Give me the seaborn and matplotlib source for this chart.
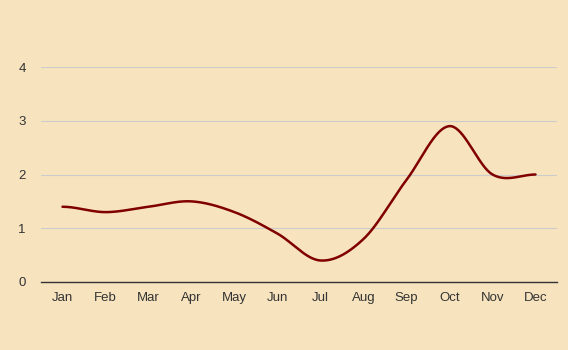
import numpy as np
import matplotlib
matplotlib.use("Agg")
import matplotlib.pyplot as plt
import seaborn as sns
import pandas as pd

months = ["Jan", "Feb", "Mar", "Apr", "May", "Jun", "Jul", "Aug", "Sep", "Oct", "Nov", "Dec"]
values = [1.4, 1.3, 1.4, 1.5, 1.3, 0.9, 0.4, 0.8, 1.9, 2.9, 2.0, 2.0]
yticks = [0, 1, 2, 3, 4]

BG = "#F7E4BF"
sns.set_theme(style="white")
plt.rcParams["font.family"] = ["Liberation Sans", "DejaVu Sans"]

fig = plt.figure(figsize=(5.68, 3.5), dpi=100, facecolor=BG)
ax = fig.add_axes([41/568, 1-282/350, (557-41)/568, (282-67)/350])
ax.set_facecolor(BG)

# Catmull-Rom smoothing for the drawn line
x = np.arange(len(values), dtype=float)
y = np.array(values, dtype=float)
xs, ys = [], []
n = len(y)
for i in range(n - 1):
    m0 = (y[i+1] - y[i-1]) / 2 if i > 0 else 0.0
    m1 = (y[i+2] - y[i]) / 2 if i + 2 < n else 0.0
    t = np.linspace(0, 1, 40, endpoint=(i == n - 2))
    h00 = 2*t**3 - 3*t**2 + 1
    h10 = t**3 - 2*t**2 + t
    h01 = -2*t**3 + 3*t**2
    h11 = t**3 - t**2
    xs.append(x[i] + t)
    ys.append(h00*y[i] + h10*m0 + h01*y[i+1] + h11*m1)
df = pd.DataFrame({"x": np.concatenate(xs), "y": np.concatenate(ys)})
sns.lineplot(data=df, x="x", y="y", ax=ax, color="#800000", linewidth=1.8, sort=False)

ax.set_xlim(-0.5, n - 0.5)
ax.set_ylim(0, 4)
ax.set_xticks(x)
ax.set_xticklabels(months)
ax.set_yticks(yticks)
ax.set_yticklabels([str(v) for v in yticks])
ax.set_xlabel("")
ax.set_ylabel("")
ax.tick_params(axis="both", length=0, labelsize=9.5, colors="#333333")
ax.tick_params(axis="x", pad=7)
ax.tick_params(axis="y", pad=11)
ax.grid(axis="y", color="#CCCCCC", linewidth=0.8)
ax.set_axisbelow(True)
for s in ["top", "right", "left"]:
    ax.spines[s].set_visible(False)
ax.spines["bottom"].set_color("#333333")
ax.spines["bottom"].set_linewidth(1)
ax.spines["bottom"].set_zorder(5)

fig.savefig("out.png", dpi=100, facecolor=BG)
